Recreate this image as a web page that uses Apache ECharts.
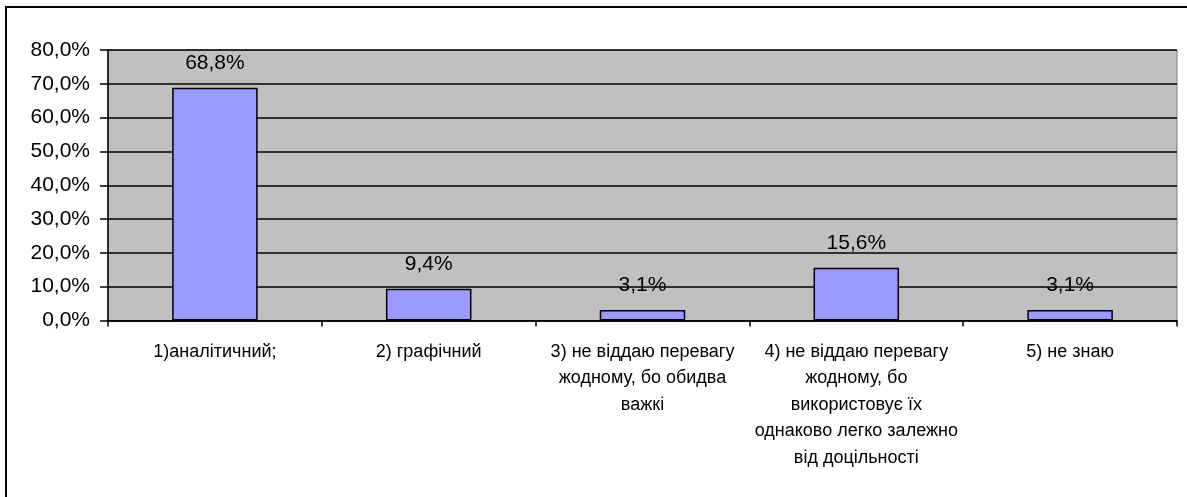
<!DOCTYPE html>
<html>
<head>
<meta charset="utf-8">
<script src="https://cdn.jsdelivr.net/npm/echarts@6/dist/echarts.min.js"></script>
<style>
  html, body { margin: 0; padding: 0; background: #fff; }
  #chart { width: 1187px; height: 497px; }
</style>
</head>
<body>
<div id="chart"></div>
<script>
// Survey answers: which way of solving is preferred
const categories = [
  '1)аналітичний;',
  '2) графічний',
  '3) не віддаю перевагу\nжодному, бо обидва\nважкі',
  '4) не віддаю перевагу\nжодному, бо\nвикористовує їх\nоднаково легко залежно\nвід доцільності',
  '5) не знаю'
];
const shares = [68.8, 9.4, 3.1, 15.6, 3.1];
const yTicks = { min: 0, max: 80, step: 10 };

const fmtPct = v => v.toFixed(1).replace('.', ',') + '%';
const FONT = '"Liberation Sans", Arial, sans-serif';

const chart = echarts.init(document.getElementById('chart'), null, { renderer: 'canvas' });

chart.setOption({
  animation: false,
  backgroundColor: '#ffffff',
  graphic: [{
    type: 'rect',
    shape: { x: 6, y: 7, width: 1400, height: 800 },
    style: { fill: 'none', stroke: '#000', lineWidth: 2 },
    silent: true,
    z: 100
  }],
  grid: {
    left: 108, top: 50, right: 10, bottom: 176.5,
    show: true,
    backgroundColor: '#C0C0C0',
    borderColor: '#808080',
    borderWidth: 1
  },
  xAxis: {
    type: 'category',
    data: categories,
    axisLine: { show: true, lineStyle: { color: '#000', width: 1.5 } },
    axisTick: { show: true, length: 6, lineStyle: { color: '#000', width: 1.5 } },
    axisLabel: {
      interval: 0,
      margin: 18,
      color: '#000',
      fontFamily: FONT,
      fontSize: 18,
      lineHeight: 26.5,
      align: 'center'
    },
    splitLine: { show: false }
  },
  yAxis: {
    type: 'value',
    min: yTicks.min,
    max: yTicks.max,
    interval: yTicks.step,
    axisLine: { show: true, lineStyle: { color: '#000', width: 1.5 } },
    axisTick: { show: true, length: 8, lineStyle: { color: '#000', width: 1.5 } },
    axisLabel: {
      margin: 18,
      color: '#000',
      fontFamily: FONT,
      fontSize: 21,
      formatter: v => fmtPct(v)
    },
    splitLine: { show: true, lineStyle: { color: '#000', width: 1.5 } }
  },
  series: [{
    type: 'bar',
    data: shares,
    barWidth: '40%',
    itemStyle: { color: '#9999FF', borderColor: '#000', borderWidth: 1.5 },
    label: {
      show: true,
      position: 'top',
      distance: 14,
      color: '#000',
      fontFamily: FONT,
      fontSize: 21,
      formatter: p => fmtPct(p.value)
    }
  }]
});
</script>
</body>
</html>
